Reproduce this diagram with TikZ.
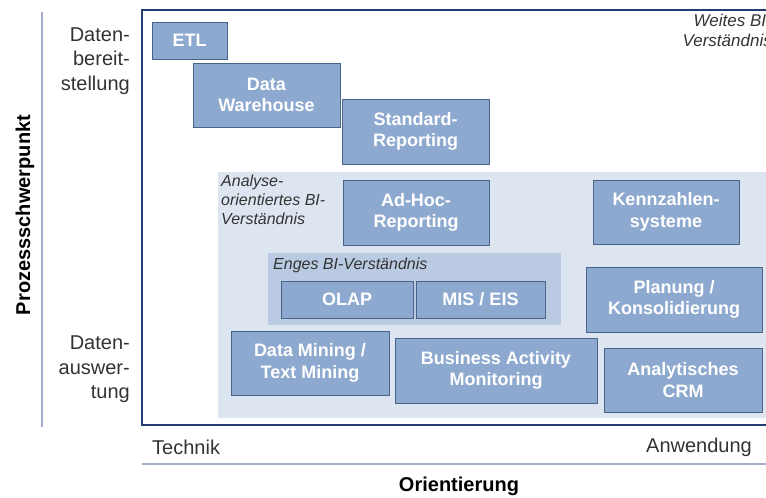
\documentclass[tikz,border=0pt]{standalone}
\usepackage{fontspec}
\setmainfont{Liberation Sans}
\definecolor{boxfill}{HTML}{8EA9CF}
\definecolor{boxborder}{HTML}{4A6487}
\definecolor{lightreg}{HTML}{DDE5F0}
\definecolor{engreg}{HTML}{B9CAE2}
\definecolor{framecol}{HTML}{203C72}
\definecolor{axiscol}{HTML}{A3AED0}
\definecolor{txtgray}{HTML}{333333}
\tikzset{
  box/.style={draw=boxborder, fill=boxfill, line width=1pt, text=white,
    font=\bfseries\fontsize{18}{21.5}\selectfont, align=center, inner sep=0pt},
  itlabel/.style={font=\itshape\fontsize{16}{19}\selectfont, text=txtgray, align=left, inner sep=0pt},
  sidelabel/.style={font=\fontsize{20}{24.5}\selectfont, text=txtgray, align=right, inner sep=0pt},
  axislabel/.style={font=\bfseries\fontsize{20}{24}\selectfont, text=black, inner sep=0pt},
  endlabel/.style={font=\fontsize{20}{24}\selectfont, text=txtgray, inner sep=0pt}
}
\begin{document}
\begin{tikzpicture}[x=1pt,y=-1pt]
\useasboundingbox (0,0) rectangle (766,498);
\clip (0,0) rectangle (766,498);
% regions
\fill[lightreg] (218,172) rectangle (790,418);
\fill[engreg] (268,253) rectangle (561,325);
% frame
\draw[framecol, line width=2pt] (790,9.5) -- (142,9.5) -- (142,425) -- (790,425);
% axes
\draw[axiscol, line width=1.5pt] (42,12) -- (42,427);
\draw[axiscol, line width=1.5pt] (142,464) -- (790,464);
% boxes
\node[box, minimum width=75pt, minimum height=37pt] (etl) at (189.5,40.5) {ETL};
\node[box, minimum width=147pt, minimum height=64pt] (dw) at (266.5,95) {Data\\Warehouse};
\node[box, minimum width=147pt, minimum height=65pt] (std) at (415.5,131.5) {Standard-\\Reporting};
\node[box, minimum width=146pt, minimum height=65pt] (adhoc) at (416,212.5) {Ad-Hoc-\\Reporting};
\node[box, minimum width=146pt, minimum height=64pt] (kenn) at (666,212) {Kennzahlen-\\systeme};
\node[box, minimum width=132pt, minimum height=37pt] (olap) at (347,299.5) {OLAP};
\node[box, minimum width=129pt, minimum height=37pt] (mis) at (480.5,299.5) {MIS / EIS};
\node[box, minimum width=176pt, minimum height=65pt] (plan) at (674,299.5) {Planung /\\Konsolidierung};
\node[box, minimum width=158pt, minimum height=64pt] (dm) at (310,363) {Data Mining /\\Text Mining};
\node[box, minimum width=202pt, minimum height=65pt] (bam) at (496,370.5) {Business Activity\\Monitoring};
\node[box, minimum width=158pt, minimum height=64pt] (crm) at (683,380) {Analytisches\\CRM};
% region labels
\node[itlabel, anchor=north west] (analyse) at (221,175) {Analyse-\\orientiertes BI-\\Verständnis};
\node[itlabel, anchor=west] (enges) at (273,265) {Enges BI-Verständnis};
\node[itlabel, font=\itshape\fontsize{17}{20}\selectfont, align=right, anchor=north east] (weites) at (772,14) {Weites BI-\\Verständnis};
% side labels
\node[sidelabel, anchor=east] (bereit) at (130,61) {Daten-\\bereit-\\stellung};
\node[sidelabel, anchor=east] (auswert) at (130,369.5) {Daten-\\auswer-\\tung};
\node[axislabel, rotate=90] (prozess) at (25,215) {Prozessschwerpunkt};
\node[endlabel, anchor=west] (technik) at (152,447) {Technik};
\node[endlabel, anchor=east] (anwendung) at (752,447) {Anwendung};
\node[axislabel] (orient) at (459,486) {Orientierung};
\end{tikzpicture}
\end{document}
